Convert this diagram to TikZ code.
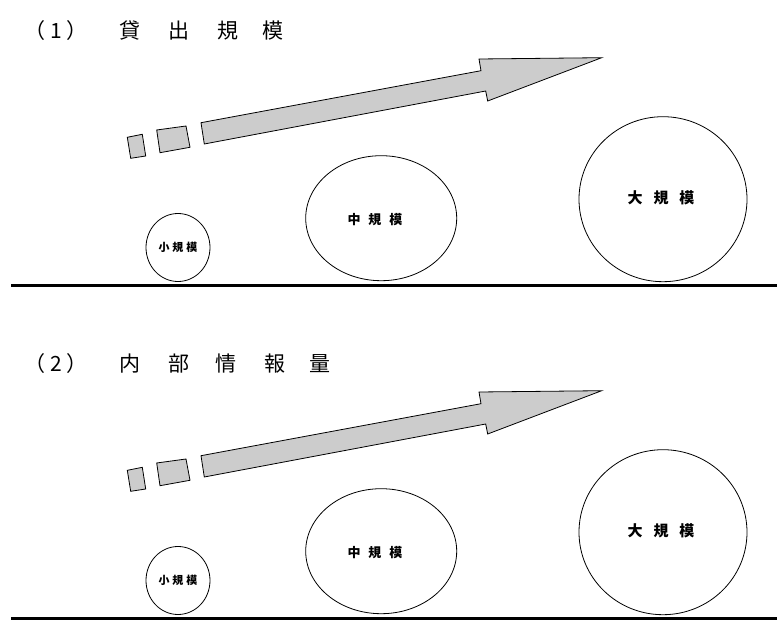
\documentclass[tikz,border=0pt]{standalone}
\usepackage{fontspec}
\setmainfont{Noto Sans CJK JP}
\usetikzlibrary{shapes.geometric}
\begin{document}
\begin{tikzpicture}[x=1pt,y=-1pt,
  blob/.style={draw, ellipse, inner sep=0pt, line width=0.8pt},
  shaft/.style={draw, fill=gray!40, line width=0.8pt, line join=miter},
  ground/.style={line width=2.5pt},
  heading/.style={anchor=west, inner sep=0pt, font=\fontsize{21}{21}\selectfont},
  lab/.style={inner sep=0pt}]
\useasboundingbox (0,0) rectangle (777,620);
\foreach \i/\dy/\ttl in {1/0/{（\hspace{5pt}1\hspace{5pt}）\hspace{32pt}貸\hspace{28pt}出\hspace{28pt}規\hspace{24pt}模},
                         2/333/{（\hspace{5pt}2\hspace{5pt}）\hspace{32pt}内\hspace{28pt}部\hspace{26pt}情\hspace{28pt}報\hspace{24pt}量}}{
  \node[heading] (title\i) at (24,31+\dy) {\ttl};
  % dashed-start arrow
  \draw[shaft] (127.3,137.3+\dy) -- (142.3,134.3+\dy) -- (145.7,156+\dy) -- (130.7,158.3+\dy) -- cycle;
  \draw[shaft] (156.7,130+\dy) -- (186,126+\dy) -- (190,147.3+\dy) -- (160,152.7+\dy) -- cycle;
  \draw[shaft] (201,122.7+\dy) -- (481,70.7+\dy) -- (479,59+\dy) -- (601.7,57.7+\dy)
     -- (487.7,101+\dy) -- (485.7,91+\dy) -- (204.3,144+\dy) -- cycle;
  % circles
  \node[blob, minimum width=64pt, minimum height=68pt] (small\i) at (178,247.5+\dy) {};
  \node[lab, font=\bfseries\fontsize{11}{11}\selectfont] (smalllab\i) at (small\i) {小\hspace{3pt}規\hspace{3pt}模};
  \node[blob, minimum width=151pt, minimum height=125pt] (mid\i) at (381.2,218.2+\dy) {};
  \node[lab, font=\bfseries\fontsize{13}{13}\selectfont] (midlab\i) at (375,220+\dy) {中\hspace{8pt}規\hspace{8pt}模};
  \node[blob, minimum width=168pt, minimum height=165pt] (big\i) at (663,199.2+\dy) {};
  \node[lab, font=\bfseries\fontsize{15}{15}\selectfont] (biglab\i) at (661,198+\dy) {大\hspace{11pt}規\hspace{11pt}模};
  % ground line
  \coordinate (gl\i) at (11,285.5+\dy);
  \coordinate (gr\i) at (777,285.5+\dy);
  \draw[ground] (gl\i) -- (gr\i);
}
\end{tikzpicture}
\end{document}
